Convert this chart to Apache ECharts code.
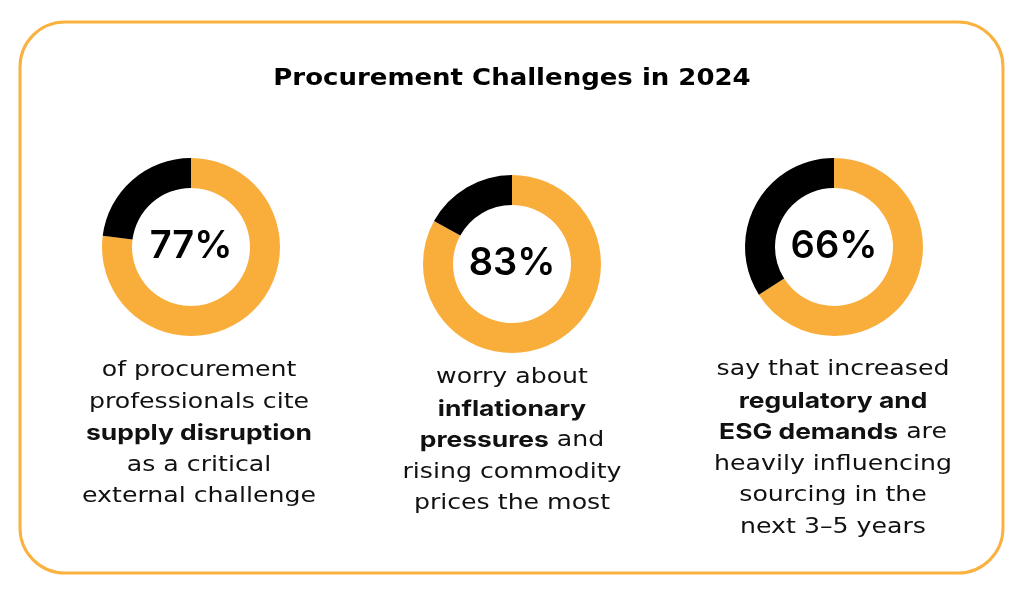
<!DOCTYPE html>
<html>
<head>
<meta charset="utf-8">
<script src="https://cdn.jsdelivr.net/npm/echarts@6/dist/echarts.min.js"></script>
<style>
html,body{margin:0;padding:0;background:#fff;}
#chart{width:1024px;height:597px;}
</style>
</head>
<body>
<div id="chart"></div>
<script>
const titleText = 'Procurement Challenges in 2024';
const categories = ['Supply disruption', 'Inflationary pressures', 'Regulatory and ESG demands'];
const shareValues = [77, 83, 66];
const descriptions = [
  ['of procurement', 'professionals cite', '{b|supply disruption}', 'as a critical', 'external challenge'],
  ['worry about', '{b|inflationary}', '{b|pressures} and', 'rising commodity', 'prices the most'],
  ['say that increased', '{b|regulatory and}', '{b|ESG demands} are', 'heavily influencing', 'sourcing in the', 'next 3–5 years']
];

const ORANGE = '#F9AE3C';
const FONT = 'DejaVu Sans';
const centers = [[191, 247], [512, 264], [834, 247]];
const descX = [199, 512, 833];
const descTop = [355, 362, 354];

const chart = echarts.init(document.getElementById('chart'), null, {renderer: 'canvas'});

const series = categories.map((c, i) => ({
  type: 'pie',
  name: c,
  center: centers[i],
  radius: [59, 89],
  startAngle: 90,
  clockwise: true,
  silent: true,
  avoidLabelOverlap: false,
  labelLine: {show: false},
  emphasis: {disabled: true},
  data: [
    {value: shareValues[i], name: c, itemStyle: {color: ORANGE},
     label: {show: true, position: 'center', formatter: '{c}%', fontFamily: 'Inter', fontSize: 38, fontWeight: 600, color: '#000'}},
    {value: 100 - shareValues[i], name: 'Other', itemStyle: {color: '#000'}, label: {show: false}}
  ]
}));

const graphics = [
  {type: 'rect', shape: {x: 20, y: 22, width: 983, height: 551, r: 45},
   style: {fill: '#fff', stroke: '#F9B23F', lineWidth: 3}, z: -10, silent: true},
  {type: 'text', x: 512, y: 68, scaleX: 1.13, silent: true,
   style: {text: titleText, align: 'center', verticalAlign: 'top',
     fontFamily: FONT, fontSize: 23, fontWeight: 'bold', fill: '#000'}}
];
descriptions.forEach((lines, i) => {
  graphics.push({
    type: 'text', x: descX[i], y: descTop[i], scaleX: 1.2, silent: true,
    style: {
      text: lines.join('\n'),
      align: 'center', verticalAlign: 'top',
      fontFamily: FONT, fontSize: 21, lineHeight: 31.5, fill: '#111',
      rich: {b: {fontFamily: 'Inter', fontSize: 22, fontWeight: 'bold', lineHeight: 31.5, fill: '#111'}}
    }
  });
});

chart.setOption({
  backgroundColor: '#fff',
  animation: false,
  graphic: graphics,
  series: series
});
</script>
</body>
</html>
